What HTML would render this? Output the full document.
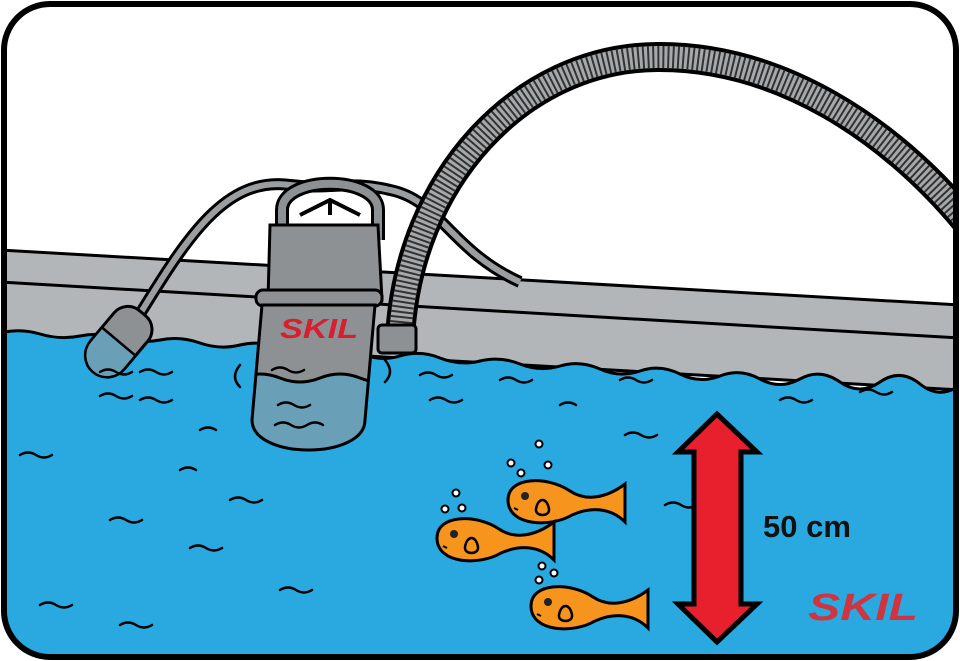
<!DOCTYPE html>
<html><head><style>html,body{margin:0;padding:0;background:#fff}svg{display:block}</style></head>
<body>
<svg width="960" height="661" viewBox="0 0 960 661" xmlns="http://www.w3.org/2000/svg">
<defs>
<clipPath id="c"><rect x="4" y="4" width="952" height="653" rx="46"/></clipPath>
<clipPath id="pumpclip"><path d="M262,305 L252,420 C252,460 365,460 365,420 L375,305 Z"/></clipPath>
<g id="fish">
<path d="M0,0 C0,-24 40,-24 62,-9 C77,1 97,-1 117,-16 L117,22 C102,7 82,7 64,15 C42,28 0,26 0,0 Z" fill="#f7941d" stroke="#000" stroke-width="3"/>
<circle cx="17" cy="-4" r="4" fill="#222"/>
<path d="M28,9 c2,-12 11,-12 13,0 c1,8 -14,8 -13,0z" fill="none" stroke="#000" stroke-width="2.5"/>
<path d="M6,8 l4,2" stroke="#000" stroke-width="2"/>
</g>
</defs>
<g clip-path="url(#c)">
<rect width="960" height="661" fill="#fff"/>
<!-- wall -->
<path d="M0,250 L960,305 L960,390 L0,335 Z" fill="#b3b6b9" stroke="#000" stroke-width="3"/>
<path d="M0,282 L960,338" stroke="#000" stroke-width="3"/>
<!-- cables -->
<path d="M130,330 C180,250 220,175 290,185 C330,190 350,180 390,190 C440,200 450,250 520,282" fill="none" stroke="#000" stroke-width="12"/>
<path d="M130,330 C180,250 220,175 290,185 C330,190 350,180 390,190 C440,200 450,250 520,282" fill="none" stroke="#9a9ea1" stroke-width="6"/>
<!-- hose -->
<path d="M400,338 C408,180 520,58 657,57 C780,56 890,130 965,220" fill="none" stroke="#000" stroke-width="30"/>
<path d="M400,338 C408,180 520,58 657,57 C780,56 890,130 965,220" fill="none" stroke="#a6a9ab" stroke-width="22"/>
<path d="M400,338 C408,180 520,58 657,57 C780,56 890,130 965,220" fill="none" stroke="#333" stroke-width="22" stroke-dasharray="2 3"/>
<!-- water -->
<path d="M0,333 Q20,328 40,334 T80,336 T120,338 T160,340 T200,343 T240,345 T280,348 T320,350 T360,353 T400,356 T440,358 T480,361 T520,364 T560,366 T600,369 T640,371 T680,374 T720,376 T760,379 T800,379 T840,382 T880,382 T920,384 T960,385 L960,661 L0,661 Z" fill="#29a9e0" stroke="#000" stroke-width="3"/>
<rect x="378" y="325" width="38" height="28" rx="4" fill="#8d9194" stroke="#000" stroke-width="3"/>
<!-- pump -->
<path d="M282,240 L282,210 C282,175 378,175 378,210 L378,240" fill="none" stroke="#000" stroke-width="14"/>
<path d="M282,240 L282,210 C282,175 378,175 378,210 L378,240" fill="none" stroke="#8d9194" stroke-width="8"/>
<path d="M300,215 L330,200 L360,215 M330,200 L330,215" stroke="#000" stroke-width="4" fill="none"/>
<path d="M270,225 L268,300 L382,300 L378,225 Z" fill="#8d9194" stroke="#000" stroke-width="3"/>
<rect x="256" y="290" width="126" height="16" rx="7" fill="#8d9194" stroke="#000" stroke-width="3"/>
<path d="M262,305 L252,420 C252,460 365,460 365,420 L375,305 Z" fill="#8d9194"/>
<path clip-path="url(#pumpclip)" d="M240,378 Q260,370 280,378 T320,378 T360,378 T400,378 L400,470 L240,470 Z" fill="#6a9fb8" stroke="#000" stroke-width="3"/>
<path d="M262,305 L252,420 C252,460 365,460 365,420 L375,305 Z" fill="none" stroke="#000" stroke-width="3"/>
<text x="280" y="338" font-family="Liberation Sans,sans-serif" font-weight="bold" font-style="italic" font-size="28" fill="#d71f2e" textLength="78" lengthAdjust="spacingAndGlyphs">SKIL</text>
<!-- float -->
<g transform="rotate(40 120 340)"><rect x="98" y="305" width="44" height="72" rx="18" fill="#8d9194" stroke="#000" stroke-width="3"/>
<path d="M98,342 L142,342 L142,360 A18,18 0 0 1 98,360 Z" fill="#6a9fb8" stroke="#000" stroke-width="2.5"/></g>
<g fill="none" stroke="#000" stroke-width="2.5" stroke-linecap="round">
<path d="M100,372 q8,-5 16,0 q8,5 16,0"/><path d="M140,372 q8,-5 16,0 q8,5 16,0"/><path d="M100,396 q8,-5 16,0 q8,5 16,0"/><path d="M140,400 q8,-5 16,0 q8,5 16,0"/>
<path d="M20,455 q8,-5 16,0 q8,5 16,0"/><path d="M200,430 q8,-5 16,0"/><path d="M180,470 q8,-5 16,0"/>
<path d="M230,500 q8,-5 16,0 q8,5 16,0"/><path d="M110,520 q8,-5 16,0 q8,5 16,0"/><path d="M190,548 q8,-5 16,0 q8,5 16,0"/>
<path d="M40,605 q8,-5 16,0 q8,5 16,0"/><path d="M120,625 q8,-5 16,0 q8,5 16,0"/><path d="M280,590 q8,-5 16,0 q8,5 16,0"/>
<path d="M420,375 q8,-5 16,0 q8,5 16,0"/><path d="M430,400 q8,-5 16,0 q8,5 16,0"/><path d="M500,380 q8,-5 16,0 q8,5 16,0"/>
<path d="M560,405 q8,-5 16,0"/><path d="M620,380 q8,-5 16,0 q8,5 16,0"/><path d="M625,435 q8,-5 16,0 q8,5 16,0"/>
<path d="M665,505 q8,-5 16,0 q8,5 16,0"/><path d="M780,400 q8,-5 16,0 q8,5 16,0"/><path d="M860,392 q8,-5 16,0 q8,5 16,0"/>
<path d="M272,370 q8,-5 16,0 q8,5 16,0"/><path d="M278,405 q8,-5 16,0 q8,5 16,0"/><path d="M275,425 q8,-5 16,0 q8,5 16,0 q8,-5 16,0"/>
<path d="M240,365 q-10,12 0,22"/><path d="M385,360 q10,12 0,22"/>
</g>
<!-- bubbles -->
<g fill="#fff" stroke="#000" stroke-width="2">
<circle cx="539" cy="444" r="3.5"/><circle cx="511" cy="463" r="3.5"/><circle cx="521" cy="473" r="3.5"/><circle cx="548" cy="465" r="3.5"/>
<circle cx="456" cy="493" r="3.5"/><circle cx="445" cy="509" r="3.5"/><circle cx="462" cy="508" r="3.5"/>
<circle cx="542" cy="566" r="3.5"/><circle cx="554" cy="573" r="3.5"/><circle cx="539" cy="580" r="3.5"/>
</g>
<use href="#fish" transform="translate(508,500)"/>
<use href="#fish" transform="translate(437,538)"/>
<use href="#fish" transform="translate(531,606)"/>
<!-- arrow -->
<path d="M717,414 L757,452 L741,452 L741,604 L757,604 L717,642 L678,604 L694,604 L694,452 L678,452 Z" fill="#e8202e" stroke="#000" stroke-width="5" stroke-linejoin="miter"/>
<text x="763" y="537" font-family="Liberation Sans,sans-serif" font-weight="bold" font-size="31" fill="#111">50 cm</text>
<text x="808" y="620" font-family="Liberation Sans,sans-serif" font-weight="bold" font-style="italic" font-size="38" fill="#d0343f" textLength="110" lengthAdjust="spacingAndGlyphs">SKIL</text>
</g>
<rect x="4" y="4" width="952" height="653" rx="46" fill="none" stroke="#000" stroke-width="6"/>
</svg>
</body></html>
